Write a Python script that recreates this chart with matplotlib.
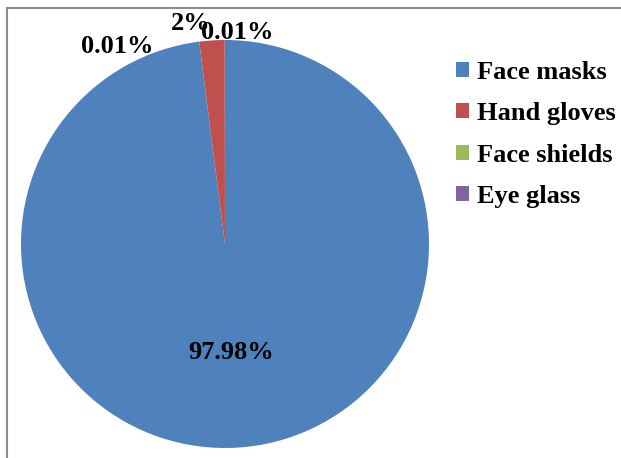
import matplotlib
matplotlib.use("Agg")
import matplotlib.pyplot as plt
from matplotlib.lines import Line2D
from matplotlib.patches import Patch

categories = ["Face masks", "Hand gloves", "Face shields", "Eye glass"]
values = [97.98, 2, 0.01, 0.01]
value_labels = ["97.98%", "2%", "0.01%", "0.01%"]
colors = ["#4F81BD", "#C0504D", "#9BBB59", "#8064A2"]

W, H = 621, 458
plt.rcParams['font.family'] = ['Liberation Serif', 'DejaVu Serif']
plt.rcParams['font.weight'] = 'bold'

fig = plt.figure(figsize=(W / 100, H / 100), dpi=100)

# pie centre (225, 244) px, radius 204 px
cx, cy, r = 225, 244, 204
ax = fig.add_axes([(cx - r) / W, (H - cy - r) / H, 2 * r / W, 2 * r / H])
wedges, texts = ax.pie(values, colors=colors, startangle=90, counterclock=False,
                       radius=1, wedgeprops=dict(linewidth=0))
ax.set_xlim(-1, 1)
ax.set_ylim(-1, 1)
ax.set_aspect('equal')
ax.axis('off')

# label positions (data units, same as Excel layout)
label_pos = [(0.03, -0.53), (-0.17, 1.08), (-0.53, 0.97), (0.06, 1.035)]
for lab, (x, y) in zip(value_labels, label_pos):
    ax.text(x, y, lab, ha='center', va='center', fontsize=19,
            fontweight='bold', color='black', clip_on=False)

handles = [Patch(facecolor=c, edgecolor='none') for c in colors]
fig.legend(handles, categories, loc='upper left',
           bbox_to_anchor=(445 / W, 1 - 50 / H), frameon=False,
           fontsize=19, handlelength=0.5, handleheight=0.5,
           handletextpad=0.3, labelspacing=0.7, borderaxespad=0)

# chart border (top and left visible)
fig.add_artist(Line2D([6.5 / W, 1], [1 - 7.5 / H, 1 - 7.5 / H],
                      transform=fig.transFigure, color='#8c8c8c', lw=1.5))
fig.add_artist(Line2D([6.5 / W, 6.5 / W], [0, 1 - 7.5 / H],
                      transform=fig.transFigure, color='#8c8c8c', lw=1.5))

fig.savefig("out.png", dpi=100)
